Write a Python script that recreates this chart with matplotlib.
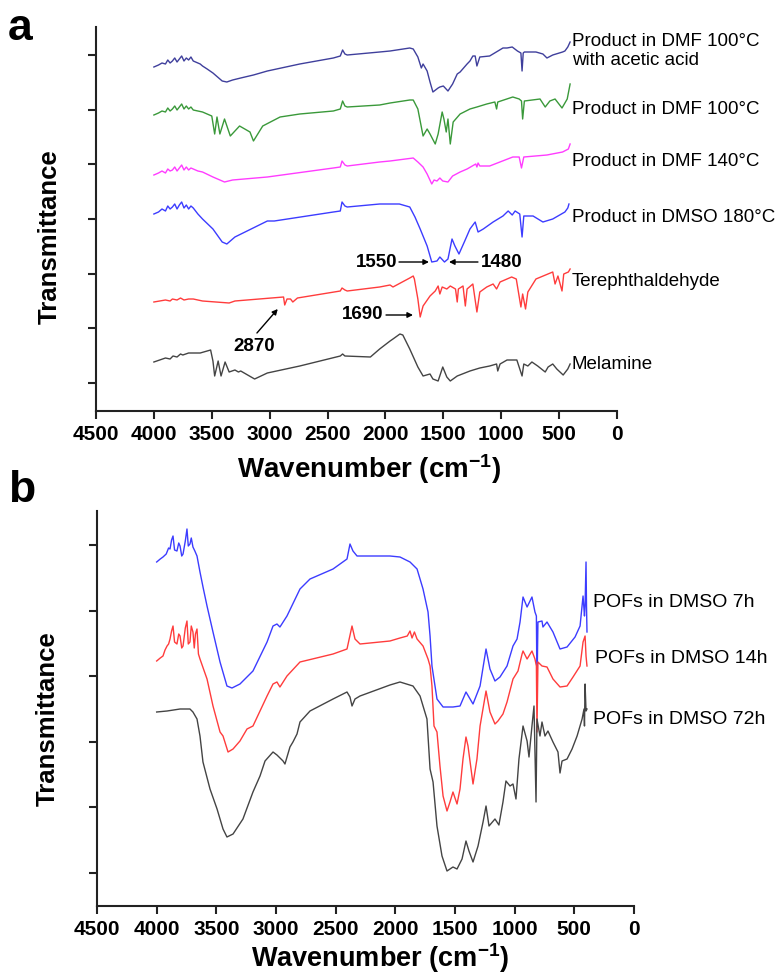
import numpy as np
import matplotlib
matplotlib.use("Agg")
import matplotlib.pyplot as plt

plt.rcParams['font.family'] = ['Liberation Sans', 'DejaVu Sans']
plt.rcParams['mathtext.fontset'] = 'custom'
plt.rcParams['mathtext.rm'] = 'Liberation Sans'
plt.rcParams['mathtext.bf'] = 'Liberation Sans:bold'
plt.rcParams['mathtext.it'] = 'Liberation Sans:italic'

# ---------------- Panel a data (wavenumber cm-1, transmittance a.u., stacked) -------------
wn_acetic = [4000, 3960, 3930, 3900, 3880, 3860, 3840, 3820, 3800, 3780, 3760, 3740, 3720, 3700, 3680,
             3660, 3640, 3600, 3580, 3540, 3490, 3450, 3410, 3370, 3320, 3250, 3140, 3020, 2740, 2450,
             2390, 2370, 2350, 2330, 2050, 1960, 1790, 1760, 1720, 1690, 1675, 1640, 1615, 1590, 1545,
             1530, 1500, 1460, 1420, 1380, 1355, 1295, 1270, 1245, 1225, 1210, 1185, 1100, 985, 950,
             905, 860, 830, 820, 810, 800, 700, 640, 605, 555, 470, 450, 425, 405]
t_acetic = [344, 346, 348, 347, 351, 348, 350, 353, 349, 352, 355, 350, 353, 351, 354,
            350, 349, 347, 345, 342, 338, 334, 330, 329, 331, 333, 336, 340, 347, 353,
            355, 361, 357, 356, 359, 360, 363, 362, 354, 343, 347, 340, 329, 319, 323,
            324, 325, 320, 327, 337, 339, 347, 350, 355, 355, 345, 354, 355, 363, 363,
            364, 360, 358, 340, 358, 359, 359, 357, 353, 356, 359, 360, 364, 369]

wn_dmf100 = [4000, 3960, 3930, 3900, 3880, 3860, 3840, 3820, 3800, 3780, 3760, 3740, 3720, 3700, 3680,
             3660, 3620, 3580, 3500, 3475, 3455, 3430, 3390, 3340, 3260, 3170, 3140, 3060, 2910, 2740,
             2450, 2390, 2370, 2350, 2330, 2050, 1960, 1790, 1760, 1720, 1675, 1640, 1615, 1570, 1545,
             1510, 1495, 1475, 1460, 1440, 1415, 1355, 1270, 1210, 1125, 1055, 1040, 1030, 900, 845,
             825, 815, 800, 665, 620, 580, 535, 475, 430, 405]
t_dmf100 = [296, 298, 300, 299, 303, 300, 302, 305, 301, 304, 307, 302, 305, 302, 304,
            301, 300, 299, 295, 277, 294, 277, 292, 275, 285, 279, 270, 285, 294, 297,
            300, 302, 310, 305, 304, 306, 308, 311, 311, 302, 275, 282, 277, 267, 277,
            299, 292, 279, 292, 267, 289, 297, 302, 304, 307, 309, 302, 309, 314, 312,
            310, 292, 310, 312, 304, 310, 312, 303, 312, 327]

wn_dmf140 = [4000, 3960, 3930, 3900, 3880, 3860, 3840, 3820, 3800, 3780, 3760, 3740, 3720, 3700, 3680,
             3660, 3620, 3580, 3490, 3390, 3320, 3020, 2450, 2390, 2375, 2350, 2330, 2050, 1960, 1760,
             1720, 1675, 1640, 1600, 1580, 1555, 1530, 1505, 1460, 1420, 1355, 1295, 1220, 1210, 1200,
             1185, 1100, 900, 845, 825, 805, 605, 470, 420, 405]
t_dmf140 = [236, 238, 240, 238, 242, 240, 241, 244, 240, 243, 246, 241, 244, 241, 243,
            242, 240, 239, 234, 229, 231, 234, 243, 244, 250, 246, 245, 249, 250, 253,
            249, 244, 237, 227, 231, 230, 233, 230, 229, 235, 239, 242, 247, 244, 248,
            245, 245, 254, 254, 243, 254, 256, 259, 262, 267]

wn_dmso180 = [4000, 3960, 3930, 3900, 3880, 3860, 3840, 3820, 3800, 3780, 3760, 3740, 3720, 3700, 3680,
              3660, 3620, 3580, 3490, 3410, 3370, 3300, 3160, 3020, 2960, 2450, 2390, 2375, 2350, 2330,
              2050, 1880, 1790, 1745, 1700, 1640, 1600, 1555, 1530, 1490, 1460, 1425, 1400, 1365, 1315,
              1270, 1225, 1200, 1155, 1070, 985, 940, 905, 880, 840, 820, 805, 725, 640, 555,
              450, 425, 415]
t_dmso180 = [197, 199, 202, 200, 205, 202, 204, 207, 202, 206, 209, 203, 206, 202, 205,
             203, 197, 192, 182, 169, 167, 174, 182, 190, 190, 199, 200, 209, 205, 204,
             207, 207, 204, 194, 182, 165, 149, 150, 154, 149, 152, 172, 165, 157, 170,
             182, 189, 179, 182, 189, 195, 200, 196, 200, 197, 174, 195, 195, 189, 192,
             199, 203, 207]

wn_tere = [4000, 3950, 3900, 3860, 3840, 3800, 3770, 3740, 3700, 3660, 3580, 3350, 3300, 2880, 2870,
           2850, 2820, 2800, 2760, 2390, 2375, 2350, 2330, 2050, 1960, 1935, 1790, 1760, 1750, 1720,
           1700, 1675, 1615, 1570, 1545, 1530, 1510, 1470, 1440, 1395, 1380, 1370, 1330, 1310, 1295,
           1245, 1210, 1185, 1125, 1070, 1040, 1010, 910, 870, 830, 815, 790, 770, 700, 555,
           535, 510, 475, 460, 420, 405]
t_tere = [109, 110, 111, 110, 112, 111, 113, 111, 112, 112, 110, 108, 110, 114, 106,
          112, 112, 109, 113, 120, 123, 121, 120, 124, 126, 124, 133, 135, 132, 112,
          94, 105, 115, 120, 125, 117, 124, 122, 125, 122, 109, 122, 125, 105, 122,
          127, 99, 119, 124, 127, 122, 129, 134, 132, 104, 117, 102, 119, 132, 139,
          127, 135, 120, 137, 139, 142]

wn_melamine = [4000, 3950, 3900, 3860, 3835, 3800, 3770, 3750, 3700, 3600, 3510, 3490, 3475, 3445, 3420,
               3385, 3350, 3300, 3270, 3250, 3130, 3020, 2740, 2390, 2370, 2350, 2130, 2050, 1960, 1935,
               1875, 1850, 1790, 1720, 1675, 1615, 1590, 1545, 1505, 1470, 1440, 1380, 1270, 1185, 1100,
               1040, 1030, 1010, 950, 865, 820, 805, 770, 735, 685, 620, 595, 555, 520, 465,
               425, 405]
t_melamine = [49, 51, 53, 52, 55, 54, 57, 56, 58, 58, 61, 50, 35, 50, 35,
              49, 39, 41, 39, 40, 32, 38, 45, 55, 57, 55, 54, 62, 70, 72,
              77, 76, 62, 44, 35, 37, 32, 30, 44, 34, 30, 35, 40, 43, 45,
              47, 40, 47, 51, 51, 35, 47, 45, 49, 45, 39, 44, 47, 42, 36,
              42, 47]

series_a = [
    (wn_acetic, t_acetic, '#3f3f9c'),
    (wn_dmf100, t_dmf100, '#3a993a'),
    (wn_dmf140, t_dmf140, '#ff3cff'),
    (wn_dmso180, t_dmso180, '#3c3cff'),
    (wn_tere, t_tere, '#ff3c3c'),
    (wn_melamine, t_melamine, '#444444'),
]
labels_a = ["Product in DMF 100°C\nwith acetic acid", "Product in DMF 100°C",
            "Product in DMF 140°C", "Product in DMSO 180°C", "Terephthaldehyde", "Melamine"]
label_y_a = [361, 302, 250, 194, 130, 47]

# ---------------- Panel b data ----------------
wn_7h = [4000, 3970, 3947, 3920, 3900, 3888, 3875, 3863, 3850, 3830, 3815, 3804, 3790, 3779, 3760,
         3746, 3735, 3721, 3710, 3696, 3680, 3662, 3637, 3610, 3578, 3528, 3469, 3411, 3369, 3302,
         3193, 3075, 3025, 2992, 2967, 2908, 2799, 2715, 2522, 2405, 2380, 2355, 2321, 2045, 1961,
         1877, 1818, 1768, 1726, 1709, 1693, 1651, 1600, 1517, 1458, 1408, 1349, 1290, 1240, 1207,
         1165, 1123, 1064, 1014, 980, 955, 930, 896, 855, 830, 818, 813, 805, 771, 763,
         729, 679, 620, 561, 494, 452, 427, 415, 410, 402, 398, 394]
t_7h = [344, 347, 349, 352, 358, 357, 366, 370, 356, 355, 363, 360, 350, 352, 365,
        377, 360, 362, 368, 359, 355, 350, 334, 318, 300, 274, 244, 220, 218, 222,
        235, 264, 280, 282, 279, 290, 317, 327, 337, 347, 362, 355, 350, 350, 349,
        344, 337, 317, 294, 270, 240, 207, 199, 199, 200, 214, 202, 220, 257, 237,
        225, 229, 240, 260, 267, 284, 309, 299, 309, 294, 290, 217, 284, 285, 279,
        284, 274, 257, 259, 269, 280, 310, 290, 300, 344, 300, 274]

wn_14h = [4000, 3970, 3947, 3930, 3913, 3900, 3888, 3875, 3863, 3850, 3830, 3815, 3804, 3790, 3779,
          3760, 3746, 3735, 3721, 3710, 3696, 3685, 3675, 3662, 3650, 3637, 3578, 3528, 3469, 3444,
          3402, 3360, 3302, 3243, 3193, 3075, 3025, 2992, 2967, 2908, 2799, 2522, 2405, 2363, 2338,
          2296, 2045, 1961, 1900, 1877, 1860, 1840, 1818, 1768, 1726, 1709, 1693, 1676, 1651, 1626,
          1600, 1567, 1542, 1517, 1483, 1458, 1433, 1408, 1391, 1349, 1316, 1290, 1240, 1207, 1165,
          1140, 1098, 1064, 1014, 972, 938, 930, 896, 855, 830, 818, 813, 805, 771, 729,
          679, 620, 561, 511, 452, 427, 410, 402, 394]
t_14h = [245, 248, 250, 256, 260, 262, 267, 275, 280, 264, 262, 272, 270, 258, 260,
         278, 285, 262, 264, 280, 274, 258, 272, 277, 252, 247, 227, 200, 174, 170,
         154, 157, 165, 177, 180, 210, 222, 224, 219, 230, 244, 252, 257, 280, 267,
         262, 265, 268, 270, 275, 268, 274, 267, 260, 247, 240, 220, 180, 174, 140,
         110, 95, 104, 114, 102, 117, 147, 169, 160, 122, 147, 180, 215, 194, 182,
         185, 192, 204, 227, 235, 252, 255, 247, 255, 247, 240, 174, 244, 240, 239,
         227, 219, 220, 229, 240, 264, 270, 250, 240]

wn_72h = [4000, 3913, 3804, 3721, 3696, 3662, 3637, 3612, 3553, 3494, 3444, 3411, 3360, 3277, 3193,
          3134, 3092, 3025, 2992, 2941, 2925, 2883, 2858, 2824, 2799, 2715, 2522, 2405, 2380, 2363,
          2338, 2296, 2045, 1961, 1852, 1793, 1735, 1709, 1684, 1651, 1609, 1567, 1517, 1483, 1441,
          1408, 1383, 1349, 1307, 1265, 1240, 1215, 1165, 1132, 1098, 1073, 1039, 1014, 989, 964,
          930, 896, 880, 855, 838, 821, 813, 788, 771, 746, 721, 679, 637, 620, 603,
          561, 519, 477, 435, 419, 415, 410, 402, 394]
t_72h = [194, 195, 197, 197, 194, 187, 170, 144, 117, 97, 77, 69, 72, 87, 114,
         130, 145, 154, 151, 145, 142, 159, 164, 172, 184, 195, 207, 214, 209, 200,
         207, 210, 221, 224, 220, 210, 187, 137, 124, 80, 50, 35, 39, 37, 47,
         65, 55, 44, 60, 84, 100, 80, 87, 81, 104, 125, 120, 122, 107, 147,
         180, 165, 149, 180, 200, 104, 187, 170, 184, 170, 175, 164, 154, 133, 145,
         147, 157, 170, 187, 197, 180, 222, 195, 197]

series_b = [
    (wn_7h, t_7h, '#3c3cff'),
    (wn_14h, t_14h, '#ff3c3c'),
    (wn_72h, t_72h, '#444444'),
]
labels_b = ["POFs in DMSO 7h", "POFs in DMSO 14h", "POFs in DMSO 72h"]
label_x_b = [344, 327, 344]
label_y_b = [304, 248, 187]

xticks = [4500, 4000, 3500, 3000, 2500, 2000, 1500, 1000, 500, 0]

# ---------------- Figure ----------------
fig = plt.figure(figsize=(7.78, 9.79), dpi=100)
ax_a = fig.add_axes([96 / 778, 1 - 412 / 979, 521 / 778, 384 / 979])
ax_b = fig.add_axes([97 / 778, 1 - 907 / 979, 537 / 778, 395 / 979])


def style(ax, ylim, yticks):
    ax.set_xlim(4500, 0)
    ax.set_ylim(*ylim)
    ax.set_xticks(xticks)
    ax.set_xticklabels([str(v) for v in xticks], fontsize=15, fontweight='bold')
    ax.set_yticks(yticks)
    ax.set_yticklabels([])
    for s in ['top', 'right']:
        ax.spines[s].set_visible(False)
    for s in ['left', 'bottom']:
        ax.spines[s].set_linewidth(1.5)
        ax.spines[s].set_color('#222222')
    ax.tick_params(axis='x', direction='out', length=5.5, width=1.5, pad=4, colors='#222222')
    ax.tick_params(axis='y', direction='out', length=6, width=1.5, colors='#222222')
    ax.tick_params(axis='x', labelcolor='black')


style(ax_a, (0, 384), np.linspace(28, 356, 7))
style(ax_b, (0, 395), np.linspace(33, 361, 6))

for wn, t, c in series_a:
    ax_a.plot(wn, t, color=c, lw=1.0)
for wn, t, c in series_b:
    ax_b.plot(wn, t, color=c, lw=1.0)

for lab, y in zip(labels_a, label_y_a):
    ax_a.text(392, y, lab, fontsize=13.5, ha='left', va='center', linespacing=1.1, clip_on=False)
for lab, x, y in zip(labels_b, label_x_b, label_y_b):
    ax_b.text(x, y, lab, fontsize=14, ha='left', va='center', clip_on=False)

# annotations in panel a
arrow = dict(arrowstyle='-|>', lw=1.0, color='black', mutation_scale=8, shrinkA=0, shrinkB=0)
ax_a.annotate('', xy=(2930, 102), xytext=(3110, 78), arrowprops=arrow)
ax_a.text(3135, 65, '2870', fontsize=13.5, fontweight='bold', ha='center', va='center')
ax_a.annotate('', xy=(1762, 96), xytext=(1995, 96), arrowprops=arrow)
ax_a.text(2194, 97, '1690', fontsize=13.5, fontweight='bold', ha='center', va='center')
ax_a.annotate('', xy=(1624, 149), xytext=(1883, 149), arrowprops=arrow)
ax_a.text(2073, 149, '1550', fontsize=13.5, fontweight='bold', ha='center', va='center')
ax_a.annotate('', xy=(1451, 149), xytext=(1201, 149), arrowprops=arrow)
ax_a.text(993, 149, '1480', fontsize=13.5, fontweight='bold', ha='center', va='center')

# axis labels
xl = r'Wavenumber (cm$^{\mathbf{-1}}$)'
ax_a.text(0.524, -0.172, xl, transform=ax_a.transAxes, fontsize=20, fontweight='bold',
          ha='center', va='baseline')
ax_b.text(0.527, -0.153, xl, transform=ax_b.transAxes, fontsize=19.5, fontweight='bold',
          ha='center', va='baseline')
ax_a.text(-0.088, 0.457, 'Transmittance', transform=ax_a.transAxes, fontsize=18.5,
          fontweight='bold', rotation=90, ha='center', va='center')
ax_b.text(-0.091, 0.478, 'Transmittance', transform=ax_b.transAxes, fontsize=18.5,
          fontweight='bold', rotation=90, ha='center', va='center')

fig.text(8 / 778, 1 - 40 / 979, 'a', fontsize=32, fontweight='bold', ha='left', va='baseline')
fig.text(8 / 778, 1 - 502 / 979, 'b', fontsize=32, fontweight='bold', ha='left', va='baseline')

fig.savefig('out.png', dpi=100)
